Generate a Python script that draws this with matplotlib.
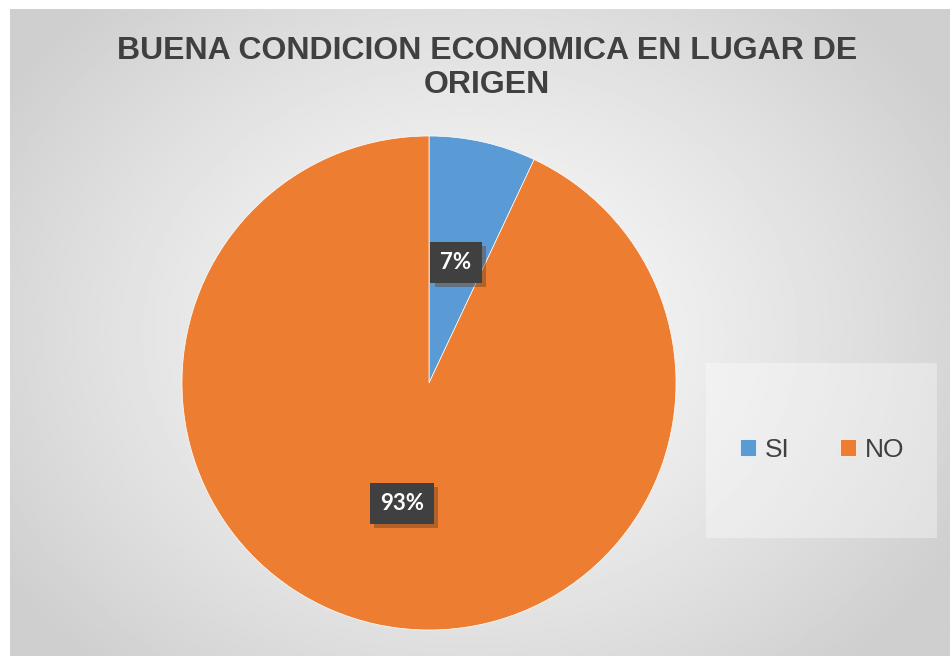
import numpy as np
import matplotlib
matplotlib.use('Agg')
import matplotlib.pyplot as plt
from matplotlib.patches import Rectangle
import matplotlib.patheffects as pe

labels = ['SI', 'NO']
values = [7, 93]
colors = ['#5B9BD5', '#ED7D31']
title = 'BUENA CONDICION ECONOMICA EN LUGAR DE\nORIGEN'

W, H = 950, 656
fig = plt.figure(figsize=(W / 100, H / 100), dpi=100)
fig.patch.set_facecolor('white')

# radial gradient background inside the chart frame
bg = fig.add_axes([10 / W, 0, 1 - 10 / W, 1 - 9 / H], zorder=0)
yy, xx = np.mgrid[0:300, 0:440]
cx, cy = 215, 150
d = np.sqrt(((xx - cx) / 260.0) ** 2 + ((yy - cy) / 210.0) ** 2)
d = np.clip(d, 0, 1)
shade = 0.98 - 0.17 * d ** 1.3
bg.imshow(shade, cmap='gray', vmin=0, vmax=1, aspect='auto', interpolation='bilinear')
bg.set_axis_off()

# pie axes placed so the circle sits where the reference has it
cxp, cyp, r = 429, 383, 247
ax = fig.add_axes([(cxp - r) / W, (H - cyp - r) / H, 2 * r / W, 2 * r / H], zorder=2)
wedges, texts, autotexts = ax.pie(values, colors=colors, startangle=90, counterclock=False,
                                   autopct='%1.0f%%', pctdistance=0.5,
                                   wedgeprops=dict(edgecolor='white', linewidth=0.5))
ax.set_xlim(-1, 1)
ax.set_ylim(-1, 1)
ax.set_aspect('auto')

for t in autotexts:
    t.set_color('white')
    t.set_fontsize(16)
    t.set_fontweight('bold')
    t.set_family('Lato')
    t.set_bbox(dict(boxstyle='square,pad=0.45', facecolor='#404040', edgecolor='none'))
    t.get_bbox_patch().set_path_effects([
        pe.SimplePatchShadow(offset=(3, -3), shadow_rgbFace='#6b4020', alpha=0.45),
        pe.Normal()])

# title
fig.text(487 / W, 1 - 68 / H, title, ha='center', va='center', fontsize=23,
         fontweight='bold', color='#404040', family='Liberation Sans', linespacing=1.15)

# legend box
fig.patches.append(Rectangle((706 / W, 1 - 538 / H), 231 / W, 175 / H,
                             transform=fig.transFigure, facecolor='white', alpha=0.35,
                             edgecolor='none', zorder=1))
leg = fig.legend(wedges, labels, loc='center', bbox_to_anchor=(822 / W, 1 - 450 / H),
                 ncol=2, frameon=False, handlelength=0.6, handleheight=0.6,
                 handletextpad=0.35, columnspacing=1.9,
                 prop={'family': 'Liberation Sans', 'size': 19})
for txt in leg.get_texts():
    txt.set_color('#404040')

fig.savefig('out.png', dpi=100)
